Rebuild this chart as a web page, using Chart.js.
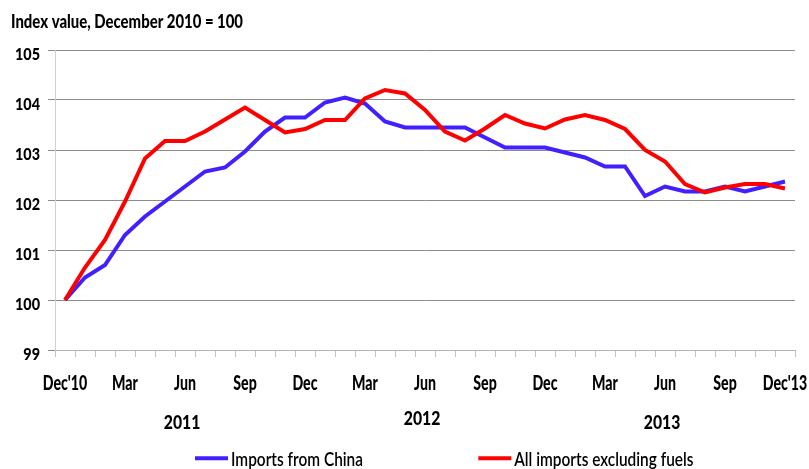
<!DOCTYPE html>
<html>
<head>
<meta charset="utf-8">
<script src="https://cdn.jsdelivr.net/npm/chart.js@4"></script>
<style>
html,body{margin:0;padding:0;background:#fff;}
#wrap{width:809px;height:469px;position:relative;}
</style>
</head>
<body>
<div id="wrap"><canvas id="c" width="809" height="469"></canvas></div>
<script>
const categories = ["Dec'10","Jan","Feb","Mar","Apr","May","Jun","Jul","Aug","Sep","Oct","Nov",
  "Dec","Jan","Feb","Mar","Apr","May","Jun","Jul","Aug","Sep","Oct","Nov",
  "Dec","Jan","Feb","Mar","Apr","May","Jun","Jul","Aug","Sep","Oct","Nov","Dec'13"];
const chinaImports = [100.0,100.45,100.7,101.3,101.67,101.97,102.27,102.57,102.65,102.97,103.37,103.65,
  103.65,103.95,104.05,103.93,103.57,103.45,103.45,103.45,103.45,103.25,103.05,103.05,
  103.05,102.95,102.85,102.67,102.67,102.08,102.27,102.17,102.17,102.27,102.17,102.27,102.37];
const allImportsExFuels = [100.0,100.65,101.2,101.97,102.83,103.18,103.18,103.37,103.61,103.85,103.6,103.35,
  103.42,103.6,103.6,104.03,104.2,104.13,103.8,103.37,103.19,103.43,103.7,103.53,
  103.43,103.61,103.7,103.6,103.42,103.0,102.77,102.32,102.15,102.25,102.32,102.32,102.23];
const yTickValues = [99,100,101,102,103,104,105];
const yearLabels = ["2011","2012","2013"];
const yearCenterIndex = [6,18,30];
const seriesNames = ["Imports from China","All imports excluding fuels"];
const titleText = "Index value, December 2010 = 100";
const blue = "#4020FF", red = "#FF0000";
const FAM = "Lato, 'Open Sans', 'DejaVu Sans', sans-serif";
const HEAVY = "900";

function sizeForCap(ctx, weight, cap) {
  ctx.font = weight + " 100px " + FAM;
  const a = ctx.measureText('H').actualBoundingBoxAscent || 72;
  return 100 * cap / a;
}
function squeeze(ctx, weight, size, refText, refWidth) {
  ctx.font = weight + " " + size + "px " + FAM;
  return refWidth / ctx.measureText(refText).width;
}
function drawSq(ctx, text, x, baseline, weight, size, sx, align) {
  ctx.save();
  ctx.font = weight + " " + size + "px " + FAM;
  ctx.translate(x, baseline);
  ctx.scale(sx, 1);
  ctx.textAlign = align;
  ctx.textBaseline = 'alphabetic';
  ctx.fillText(text, 0, 0);
  ctx.restore();
}

const extras = {
  id: 'extras',
  afterDraw(chart) {
    const ctx = chart.ctx;
    const xs = chart.scales.x, ys = chart.scales.y;
    ctx.save();
    ctx.fillStyle = '#000';
    // title
    let s = sizeForCap(ctx, HEAVY, 13.7);
    let k = squeeze(ctx, HEAVY, s, titleText, 232);
    drawSq(ctx, titleText, 11, 27.7, HEAVY, s, k, 'left');
    // y tick labels
    s = sizeForCap(ctx, HEAVY, 13);
    k = squeeze(ctx, HEAVY, s, "105", 25);
    yTickValues.forEach(v => {
      drawSq(ctx, String(v), 40, ys.getPixelForValue(v) + 9.5, HEAVY, s, k, 'right');
    });
    // x tick labels
    s = sizeForCap(ctx, HEAVY, 15);
    k = squeeze(ctx, HEAVY, s, "Dec'10", 44.6);
    categories.forEach((c, i) => {
      if (i % 3 === 0) drawSq(ctx, c, xs.getPixelForValue(i), 390, HEAVY, s, k, 'center');
    });
    // years
    s = sizeForCap(ctx, HEAVY, 14.3);
    k = squeeze(ctx, HEAVY, s, "2011", 36.5);
    const yb = [429.3, 425, 429.3];
    yearLabels.forEach((t, j) => {
      drawSq(ctx, t, xs.getPixelForValue(yearCenterIndex[j]) - 3, yb[j], HEAVY, s, k, 'center');
    });
    // legend
    const LW = "600";
    s = sizeForCap(ctx, LW, 13.3);
    k = squeeze(ctx, LW, s, seriesNames[0], 132);
    const items = [{x: 195, c: blue, t: seriesNames[0]}, {x: 478.3, c: red, t: seriesNames[1]}];
    items.forEach(it => {
      ctx.strokeStyle = it.c;
      ctx.lineWidth = 4;
      ctx.beginPath();
      ctx.moveTo(it.x, 458.3);
      ctx.lineTo(it.x + 33, 458.3);
      ctx.stroke();
      drawSq(ctx, it.t, it.x + 36, 466, LW, s, k, 'left');
    });
    ctx.restore();
  }
};

new Chart(document.getElementById('c'), {
  type: 'line',
  data: {
    labels: categories,
    datasets: [
      {label: seriesNames[0], data: chinaImports, borderColor: blue, backgroundColor: blue,
       borderWidth: 4, pointRadius: 0, tension: 0, order: 1},
      {label: seriesNames[1], data: allImportsExFuels, borderColor: red, backgroundColor: red,
       borderWidth: 4, pointRadius: 0, tension: 0, order: 0}
    ]
  },
  options: {
    responsive: false,
    animation: false,
    devicePixelRatio: 1,
    layout: {padding: {top: 50, right: 14, left: 0, bottom: 0}},
    plugins: {legend: {display: false}, tooltip: {enabled: false}, title: {display: false}},
    scales: {
      x: {
        type: 'category',
        offset: true,
        grid: {offset: true, drawOnChartArea: false, tickLength: 7, color: '#c4c4c4', lineWidth: 1},
        border: {color: '#b4b4b4', width: 1},
        ticks: {display: false, autoSkip: false},
        afterFit(sc) { sc.height = 119; sc.paddingLeft = 0; sc.paddingRight = 0; }
      },
      y: {
        min: 99, max: 105,
        grid: {color: '#8c8c8c', tickLength: 7, lineWidth: 1},
        border: {color: '#d0d0d0', width: 1},
        ticks: {display: false, stepSize: 1},
        afterFit(sc) { sc.width = 55; sc.paddingTop = 0; sc.paddingBottom = 0; }
      }
    }
  },
  plugins: [extras]
});
</script>
</body>
</html>
